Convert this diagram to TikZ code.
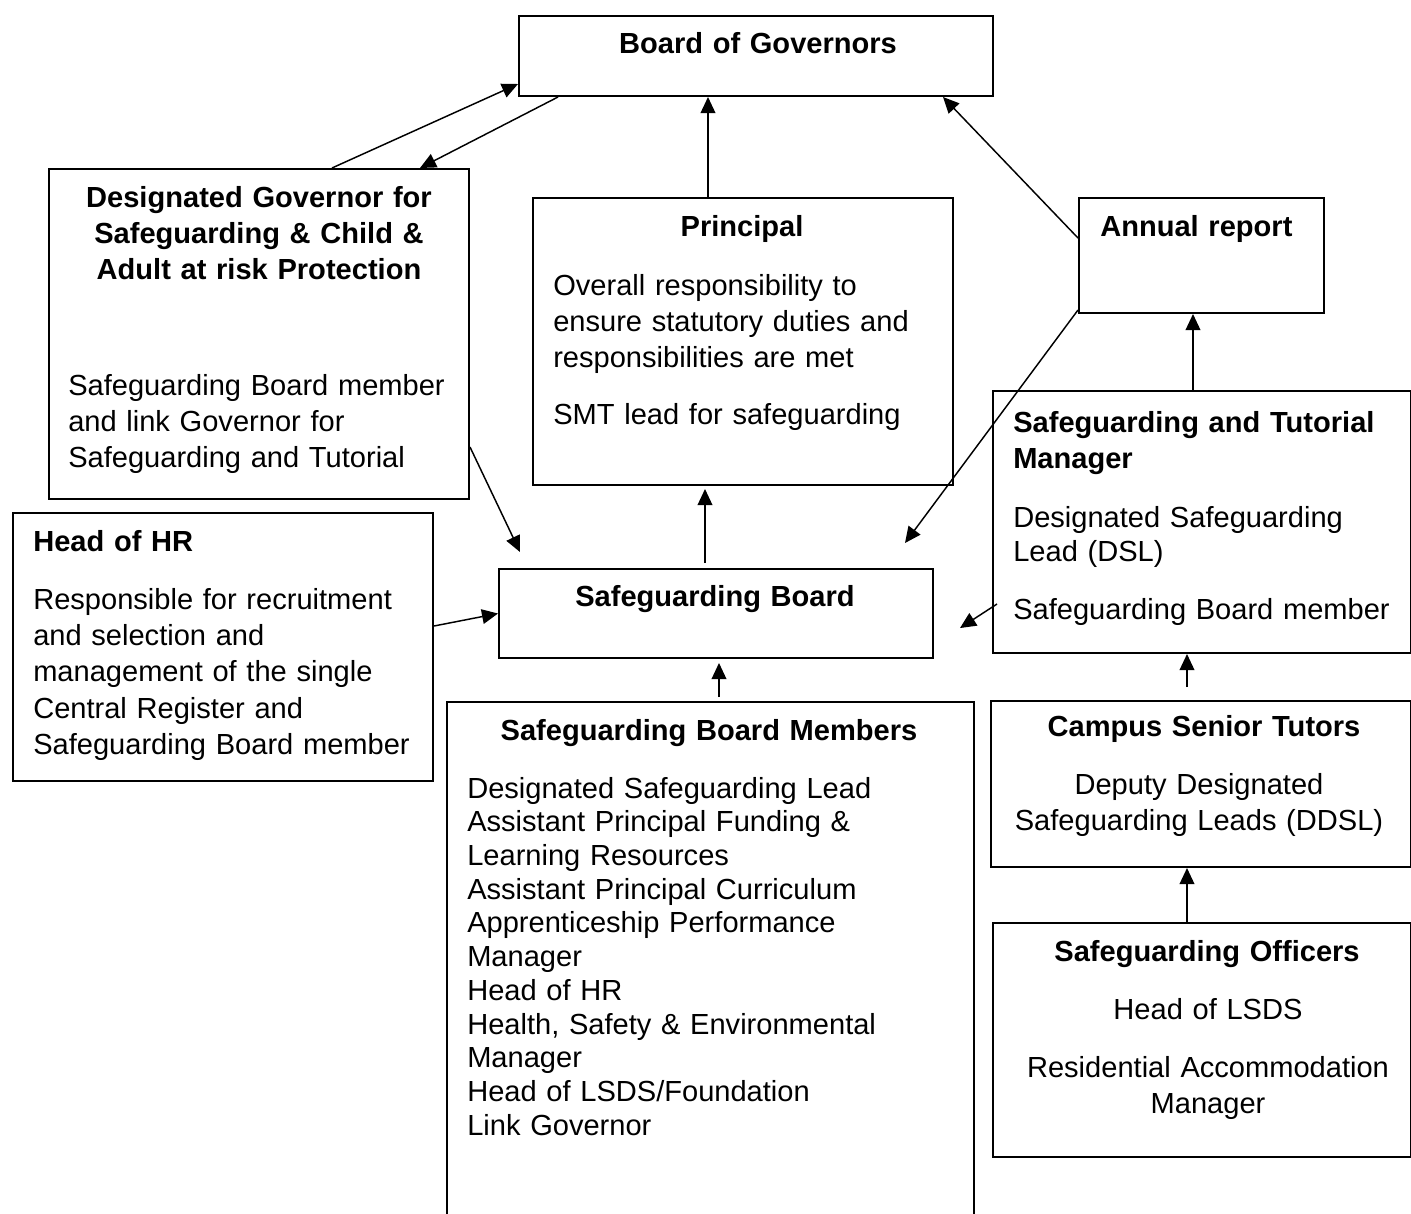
\documentclass[tikz,border=0pt]{standalone}
\usepackage{fontspec}
\setmainfont{Liberation Sans}
\usetikzlibrary{arrows.meta}
\begin{document}
\begin{tikzpicture}[x=0.75pt,y=-0.75pt,
  box/.style={draw, line width=1.5pt, anchor=north west, inner sep=0pt},
  tl/.style={anchor=base west, inner sep=0pt, align=left, text width=340pt, font=\fontsize{21.8}{27.3}\selectfont},
  tlb/.style={tl, font=\bfseries\fontsize{21.8}{27.3}\selectfont},
  tc/.style={anchor=base, inner sep=0pt, align=center, text width=340pt, font=\fontsize{21.8}{27.3}\selectfont},
  tcb/.style={tc, font=\bfseries\fontsize{21.8}{27.3}\selectfont},
  arr/.style={line width=1.1pt, -{Triangle[length=12pt, width=11pt]}}
]
\clip (0,0) rectangle (1411,1214);
\fill[white] (0,0) rectangle (1411,1214);

% boxes
\node[box, minimum width=355.5pt, minimum height=60pt] (bog) at (518,15) {};
\node[box, minimum width=315pt, minimum height=247.5pt] (dg) at (48,168) {};
\node[box, minimum width=315pt, minimum height=215.25pt] (pr) at (532,197) {};
\node[box, minimum width=183.75pt, minimum height=86.25pt] (ar) at (1078,197) {};
\node[box, minimum width=313.5pt, minimum height=196.5pt] (stm) at (992,390) {};
\node[box, minimum width=315pt, minimum height=201pt] (hr) at (12,512) {};
\node[box, minimum width=325.5pt, minimum height=66.75pt] (sb) at (498,568) {};
\node[box, minimum width=395.25pt, minimum height=400pt] (sbm) at (446,701) {};
\node[box, minimum width=315pt, minimum height=124.5pt] (cst) at (990,700) {};
\node[box, minimum width=313.5pt, minimum height=175.5pt] (so) at (992,922) {};

% texts
\node[tcb] (bogt) at (758,53) {Board of Governors};
\node[tcb] (dgt) at (259,207) {Designated Governor for\\Safeguarding \& Child \&\\Adult at risk Protection};
\node[tl] (dgb) at (68,395) {Safeguarding Board member\\and link Governor for\\Safeguarding and Tutorial};
\node[tcb] (prt) at (742,236) {Principal};
\node[tl] (prb) at (553,295) {Overall responsibility to\\ensure statutory duties and\\responsibilities are met\\[15.5pt]SMT lead for safeguarding};
\node[tlb] (art) at (1100,236) {Annual report};
\node[tlb] (stmt) at (1013,432) {Safeguarding and Tutorial\\Manager};
\node[tl, font=\fontsize{21.8}{25.5}\selectfont] (stmb) at (1013,527) {Designated Safeguarding\\Lead (DSL)\\[18.5pt]Safeguarding Board member};
\node[tlb] (hrt) at (33,551) {Head of HR};
\node[tl] (hrb) at (33,609) {Responsible for recruitment\\and selection and\\management of the single\\Central Register and\\Safeguarding Board member};
\node[tcb] (sbt) at (715,606) {Safeguarding Board};
\node[tcb] (sbmt) at (709,740) {Safeguarding Board Members};
\node[tl, font=\fontsize{21.8}{25.3}\selectfont] (sbmb) at (467,798) {Designated Safeguarding Lead\\Assistant Principal Funding \&\\Learning Resources\\Assistant Principal Curriculum\\Apprenticeship Performance\\Manager\\Head of HR\\Health, Safety \& Environmental\\Manager\\Head of LSDS/Foundation\\Link Governor};
\node[tcb] (cstt) at (1204,736) {Campus Senior Tutors};
\node[tc] (cstb) at (1199,794) {Deputy Designated\\Safeguarding Leads (DDSL)};
\node[tcb] (sot) at (1207,961) {Safeguarding Officers};
\node[tc] (sob) at (1208,1019) {Head of LSDS\\[16.5pt]Residential Accommodation\\Manager};

% connectors
\draw[arr] ([xshift=213pt]dg.north west) -- ([yshift=-21pt]bog.west);
\draw[arr] ([xshift=30pt]bog.south west) -- ([xshift=279pt]dg.north west);
\draw[arr] ([xshift=132pt]pr.north west) -- ([xshift=142.5pt]bog.south west);
\draw[arr] ([yshift=-30.75pt]ar.north west) -- ([xshift=318.75pt]bog.south west);
\coordinate (arend) at ([xshift=305.25pt, yshift=18.75pt]sb.north west);
\draw[arr] ([yshift=3pt]ar.south west) -- (arend);
\coordinate (dgend) at ([xshift=16.5pt, yshift=12pt]sb.north west);
\draw[arr] ([yshift=39.75pt]dg.south east) -- (dgend);
\draw[arr] ([yshift=-85.5pt]hr.north east) -- (sb.west);
\draw[arr] ([xshift=155.25pt, yshift=3.75pt]sb.north west) -- ([xshift=129.75pt, yshift=-2.25pt]pr.south west);
\draw[arr] ([xshift=204.75pt, yshift=3pt]sbm.north west) -- ([xshift=165.75pt, yshift=-3pt]sb.south west);
\coordinate (stmend) at ([xshift=19.5pt, yshift=-10.9pt]sb.east);
\draw[arr] ([xshift=3.75pt, yshift=-61.5pt]stm.west) -- (stmend);
\draw[arr] ([xshift=150.75pt]stm.north west) -- ([xshift=86.25pt]ar.south west);
\draw[arr] ([xshift=147.75pt, yshift=9.75pt]cst.north west) -- ([xshift=146.25pt]stm.south west);
\draw[arr] ([xshift=146.25pt]so.north west) -- ([xshift=147.75pt]cst.south west);
\end{tikzpicture}
\end{document}
